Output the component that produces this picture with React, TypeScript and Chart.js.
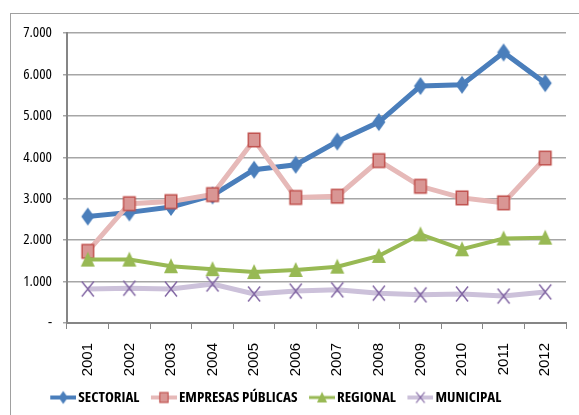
import React, { useEffect, useRef } from "react";
import { Chart, registerables } from "chart.js";

Chart.register(...registerables);

const years = ["2001", "2002", "2003", "2004", "2005", "2006", "2007", "2008", "2009", "2010", "2011", "2012"];
const sectorial = [2570, 2670, 2800, 3080, 3700, 3820, 4380, 4850, 5720, 5750, 6530, 5790];
const empresasPublicas = [1730, 2880, 2930, 3100, 4420, 3030, 3060, 3920, 3300, 3020, 2900, 3980];
const regional = [1530, 1530, 1370, 1300, 1230, 1280, 1360, 1620, 2140, 1780, 2040, 2060];
const municipal = [820, 840, 820, 940, 700, 770, 800, 720, 680, 700, 650, 750];
const seriesNames = ["SECTORIAL", "EMPRESAS PÚBLICAS", "REGIONAL", "MUNICIPAL"];
const yTickValues = [0, 1000, 2000, 3000, 4000, 5000, 6000, 7000];
const yTickLabels = ["-", "1.000", "2.000", "3.000", "4.000", "5.000", "6.000", "7.000"];

const COND = '"Open Sans", "DejaVu Sans", sans-serif';

type Style = {
  line: string;
  lineWidth: number;
  kind: string;
  fill: string;
  stroke: string;
};

const styles: Style[] = [
  { line: "#4A7EBB", lineWidth: 5, kind: "diamond", fill: "#4A7EBB", stroke: "#4A7EBB" },
  { line: "#E6B9B8", lineWidth: 5, kind: "square", fill: "#D99694", stroke: "#C0504D" },
  { line: "#98B954", lineWidth: 4, kind: "triangle", fill: "#98B954", stroke: "#98B954" },
  { line: "#CCC1DA", lineWidth: 5, kind: "cross", fill: "#8064A2", stroke: "#8064A2" },
];

function drawMarker(ctx: CanvasRenderingContext2D, s: Style, cx: number, cy: number, k: number) {
  ctx.save();
  ctx.translate(cx, cy);
  ctx.scale(k, k);
  ctx.fillStyle = s.fill;
  ctx.strokeStyle = s.stroke;
  ctx.beginPath();
  if (s.kind === "diamond") {
    ctx.moveTo(0, -9);
    ctx.lineTo(6.5, 0);
    ctx.lineTo(0, 9);
    ctx.lineTo(-6.5, 0);
    ctx.closePath();
    ctx.fill();
  } else if (s.kind === "square") {
    ctx.lineWidth = 1.5;
    ctx.rect(-5.75, -6.75, 11.5, 13.5);
    ctx.fill();
    ctx.stroke();
  } else if (s.kind === "triangle") {
    ctx.moveTo(0, -8);
    ctx.lineTo(7, 7);
    ctx.lineTo(-7, 7);
    ctx.closePath();
    ctx.fill();
  } else {
    ctx.lineWidth = 1.4;
    ctx.moveTo(-6, -7.5);
    ctx.lineTo(6, 7.5);
    ctx.moveTo(6, -7.5);
    ctx.lineTo(-6, 7.5);
    ctx.stroke();
  }
  ctx.restore();
}

function markerImage(s: Style): HTMLCanvasElement {
  const c = document.createElement("canvas");
  c.width = 16;
  c.height = 20;
  drawMarker(c.getContext("2d")!, s, 8, 10, 1);
  return c;
}

function legendIcon(s: Style): HTMLCanvasElement {
  const c = document.createElement("canvas");
  c.width = 37;
  c.height = 16;
  const ctx = c.getContext("2d")!;
  ctx.strokeStyle = s.line;
  ctx.lineWidth = s.lineWidth - 1;
  ctx.beginPath();
  ctx.moveTo(11, 8);
  ctx.lineTo(37, 8);
  ctx.stroke();
  drawMarker(ctx, s, 24, 8, 0.72);
  return c;
}

const shiftLegend = {
  id: "shiftLegend",
  afterLayout(chart: any) {
    if (chart.legend) chart.legend.left -= 26;
  },
};

export default function App() {
  const ref = useRef<HTMLCanvasElement>(null);

  useEffect(() => {
    document.body.style.margin = "0";
    const allSeries = [sectorial, empresasPublicas, regional, municipal];
    const icons = styles.map(legendIcon);
    const markers = styles.map(markerImage);
    const chart = new Chart(ref.current!, {
      type: "line",
      data: {
        labels: years,
        datasets: allSeries.map((d, i) => ({
          label: seriesNames[i],
          data: d,
          borderColor: styles[i].line,
          borderWidth: styles[i].lineWidth,
          backgroundColor: styles[i].fill,
          pointStyle: markers[i] as any,
          pointRadius: 8,
          tension: 0,
          fill: false,
          order: 4 - i,
        })),
      },
      plugins: [shiftLegend],
      options: {
        animation: false,
        responsive: false,
        maintainAspectRatio: false,
        layout: { padding: { left: 0, right: 7, top: 33, bottom: 0 } },
        plugins: {
          tooltip: { enabled: false },
          legend: {
            position: "bottom",
            align: "center",
            labels: {
              usePointStyle: true,
              pointStyleWidth: 26,
              padding: 6,
              color: "#000",
              font: { family: COND, size: 15, weight: "bold condensed" as any },
              generateLabels: (ch: any) =>
                ch.data.datasets.map((ds: any, i: number) => ({
                  text: ds.label,
                  fillStyle: styles[i].fill,
                  strokeStyle: styles[i].line,
                  lineWidth: 0,
                  pointStyle: icons[i],
                  hidden: false,
                  datasetIndex: i,
                  fontColor: "#000",
                })),
            },
          },
        },
        scales: {
          x: {
            offset: true,
            afterFit: (scale: any) => {
              scale.height = 61;
            },
            grid: {
              display: true,
              offset: true,
              drawOnChartArea: false,
              drawTicks: true,
              tickLength: 6,
              color: "#868686",
            },
            border: { display: true, color: "#868686", width: 2 },
            ticks: {
              minRotation: 90,
              maxRotation: 90,
              padding: 14,
              color: "#000",
              font: { family: '"Liberation Sans", Arial, sans-serif', size: 15 },
            },
          },
          y: {
            min: 0,
            max: 7000,
            afterFit: (scale: any) => {
              scale.width = 67;
            },
            afterBuildTicks: (scale: any) => {
              scale.ticks = yTickValues.map((v) => ({ value: v }));
            },
            grid: {
              color: "#A6A6A6",
              lineWidth: 1.5,
              tickLength: 4,
              drawTicks: true,
            },
            border: { display: true, color: "#868686", width: 2 },
            ticks: {
              padding: 11,
              color: "#000",
              font: { family: COND, size: 15, weight: "condensed" as any },
              callback: (_v: any, idx: number) => yTickLabels[idx],
            },
          },
        },
      },
    });
    return () => chart.destroy();
  }, []);

  return (
    <div style={{ position: "relative", width: 579, height: 415, overflow: "hidden", background: "#fff" }}>
      <div
        style={{
          position: "absolute",
          left: 10,
          top: 13,
          width: 600,
          height: 500,
          borderTop: "1px solid #A0A0A0",
          borderLeft: "1px solid #A0A0A0",
        }}
      />
      <canvas ref={ref} width={579} height={415} style={{ position: "absolute", left: 0, top: 0 }} />
    </div>
  );
}
